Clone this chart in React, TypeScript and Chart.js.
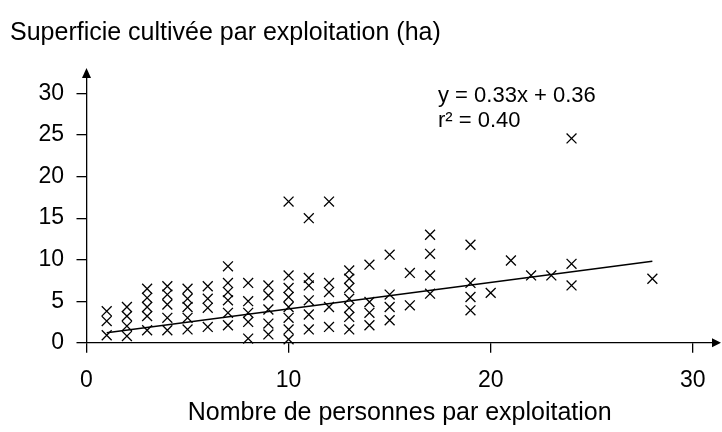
import React, { useEffect, useRef } from "react";
import { Chart, registerables } from "chart.js";

Chart.register(...registerables);

// ---- data ----
const personnes = [1, 2, 3, 4, 5, 6, 7, 8, 9, 10, 11, 12, 13, 14, 15, 16, 17, 19, 20, 21, 22, 23, 24, 28];
const superficies = [
  [3.8, 2.6, 0.9],
  [4.3, 3.2, 2.0, 0.8],
  [6.5, 5.4, 4.3, 3.2, 1.5],
  [6.8, 5.8, 4.6, 3.0, 1.5],
  [6.5, 5.3, 4.3, 3.0, 1.6],
  [6.8, 5.3, 4.2, 1.9],
  [9.2, 7.2, 6.1, 5.1, 3.6, 2.1],
  [7.2, 5.0, 3.6, 2.5, 0.5],
  [6.9, 5.7, 4.0, 2.3, 1.0],
  [17.0, 8.1, 6.6, 5.5, 4.3, 3.0, 1.6, 0.4],
  [15.0, 7.8, 6.9, 5.1, 3.4, 1.6],
  [17.0, 7.2, 6.1, 4.3, 1.9],
  [8.7, 7.7, 6.6, 5.3, 4.2, 3.1, 1.6],
  [9.4, 4.9, 3.6, 2.1],
  [10.6, 5.8, 4.3, 2.7],
  [8.4, 4.5],
  [13.0, 10.7, 8.1, 5.9],
  [11.8, 7.2, 5.5, 3.9],
  [6.0],
  [9.9],
  [8.1],
  [8.1],
  [24.6, 9.5, 6.9],
  [7.7],
];
const trendX = [1, 28];
const trendY = [1.2, 9.8];
const xTickValues = [0, 10, 20, 30];
const yTickValues = [0, 5, 10, 15, 20, 25, 30];
const equationLines = ["y = 0.33x + 0.36", "r\u00B2 = 0.40"];
const chartTitle = "Superficie cultivée par exploitation (ha)";
const xAxisTitle = "Nombre de personnes par exploitation";

const FAMILY = "'Liberation Sans', Arial, sans-serif";

const scatterPoints = personnes.flatMap((p, i) => superficies[i].map((v) => ({ x: p, y: v })));
const trendPoints = trendX.map((x, i) => ({ x, y: trendY[i] }));

const axisArrows = {
  id: "axisArrows",
  afterDraw(chart: any) {
    const { ctx, chartArea, scales } = chart;
    const y0 = scales.y.getPixelForValue(0);
    const x0 = scales.x.getPixelForValue(0);
    ctx.save();
    ctx.fillStyle = "#000";
    ctx.beginPath();
    ctx.moveTo(chartArea.right + 8, y0);
    ctx.lineTo(chartArea.right - 1, y0 - 4.5);
    ctx.lineTo(chartArea.right - 1, y0 + 4.5);
    ctx.closePath();
    ctx.fill();
    ctx.beginPath();
    ctx.moveTo(x0, chartArea.top - 9);
    ctx.lineTo(x0 - 4.5, chartArea.top + 1);
    ctx.lineTo(x0 + 4.5, chartArea.top + 1);
    ctx.closePath();
    ctx.fill();
    ctx.font = `22px ${FAMILY}`;
    ctx.textAlign = "left";
    ctx.textBaseline = "alphabetic";
    ctx.fillText(equationLines[0], 438, 102);
    ctx.fillText(equationLines[1], 438, 127);
    ctx.restore();
  },
};

export default function App() {
  const ref = useRef<HTMLCanvasElement | null>(null);
  useEffect(() => {
    if (!ref.current) return;
    const tickFont = { family: FAMILY, size: 23 };
    const chart = new Chart(ref.current, {
      type: "scatter",
      data: {
        datasets: [
          {
            data: scatterPoints,
            pointStyle: "crossRot",
            pointRadius: 7,
            pointBorderWidth: 1.3,
            borderColor: "#000",
            backgroundColor: "#000",
            showLine: false,
            clip: false,
          } as any,
          {
            data: trendPoints,
            showLine: true,
            borderColor: "#000",
            borderWidth: 1.5,
            pointRadius: 0,
            clip: false,
          } as any,
        ],
      },
      options: {
        animation: false,
        responsive: false,
        layout: { padding: { left: 10, right: 9, top: 0, bottom: 0 } },
        plugins: {
          legend: { display: false },
          tooltip: { enabled: false },
          title: {
            display: true,
            text: chartTitle,
            align: "start",
            color: "#000",
            font: { family: FAMILY, size: 25, weight: "normal" },
            padding: { top: 18, bottom: 29 },
          },
        },
        scales: {
          x: {
            type: "linear",
            min: 0,
            max: 31,
            afterBuildTicks: (s: any) => {
              s.ticks = xTickValues.map((v) => ({ value: v }));
            },
            afterFit: (s: any) => {
              s.height = 89.3;
            },
            grid: { drawOnChartArea: false, drawTicks: true, tickLength: 10, color: "#000", lineWidth: 1.3 },
            border: { display: true, color: "#000", width: 1.3 },
            ticks: { color: "#000", font: tickFont, padding: 14.5, maxRotation: 0, autoSkip: false },
            title: {
              display: true,
              text: xAxisTitle,
              color: "#000",
              font: { family: FAMILY, size: 25 },
              padding: { top: 0, bottom: 4 },
            },
          },
          y: {
            type: "linear",
            min: 0,
            max: 32,
            afterBuildTicks: (s: any) => {
              s.ticks = yTickValues.map((v) => ({ value: v }));
            },
            afterFit: (s: any) => {
              s.width = 76.5;
            },
            grid: { drawOnChartArea: false, drawTicks: true, tickLength: 10, color: "#000", lineWidth: 1.3 },
            border: { display: true, color: "#000", width: 1.3 },
            ticks: { color: "#000", font: tickFont, padding: 12.5, autoSkip: false },
          },
        },
      } as any,
      plugins: [axisArrows],
    });
    return () => chart.destroy();
  }, []);
  return (
    <div style={{ position: "fixed", left: 0, top: 0, width: 722, height: 432, background: "#fff" }}>
      <canvas ref={ref} width={722} height={432} style={{ display: "block" }} />
    </div>
  );
}
